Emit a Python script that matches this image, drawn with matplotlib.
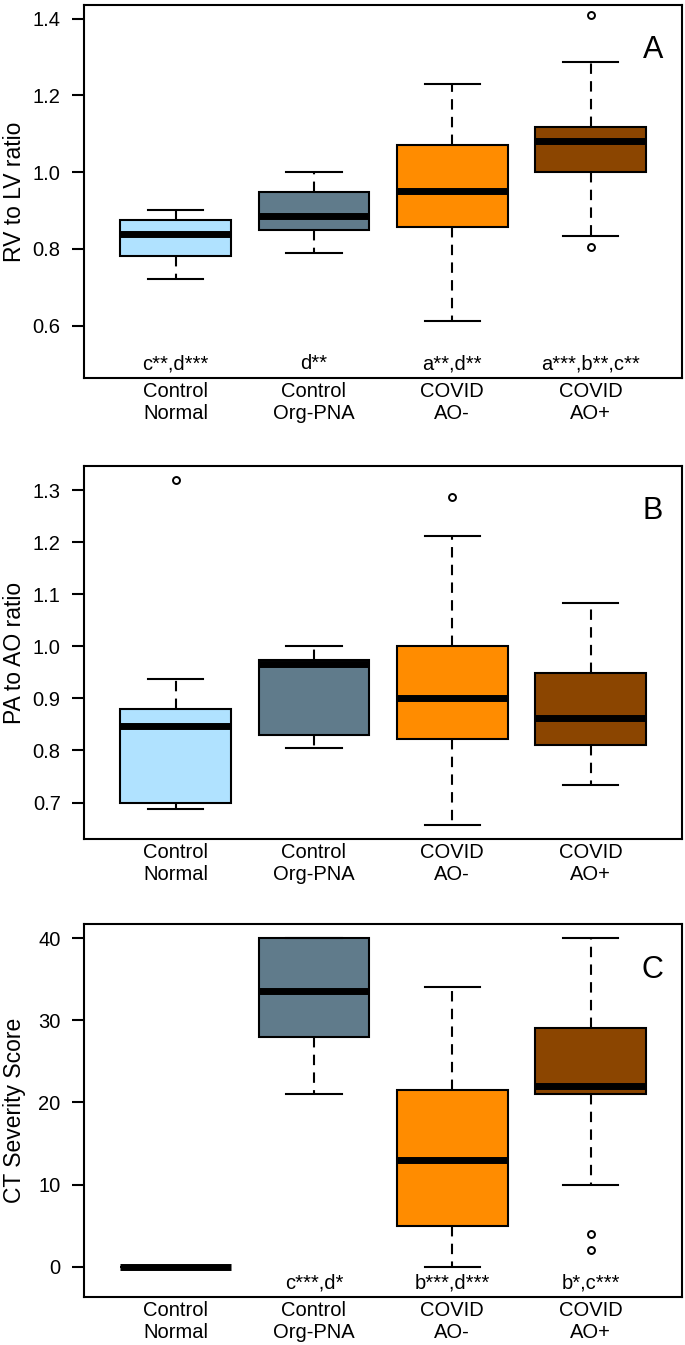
import matplotlib
matplotlib.use("Agg")
import matplotlib.pyplot as plt

plt.rcParams['font.family'] = ['Liberation Sans', 'DejaVu Sans']

# ==========================================
# DATA
# ==========================================
groups = ["Control\nNormal", "Control\nOrg-PNA", "COVID\nAO-", "COVID\nAO+"]
box_colors = ["#B0E2FF", "#607B8B", "#FF8C00", "#8B4500"]

# Panel A: RV to LV ratio (whisker low, Q1, median, Q3, whisker high)
rv_lo = [0.722, 0.790, 0.611, 0.834]
rv_q1 = [0.781, 0.848, 0.858, 1.001]
rv_med = [0.839, 0.885, 0.952, 1.080]
rv_q3 = [0.874, 0.948, 1.071, 1.117]
rv_hi = [0.901, 1.000, 1.229, 1.287]
rv_fliers = [[], [], [], [1.411, 0.805]]
rv_sig = ["c**,d***", "d**", "a**,d**", "a***,b**,c**"]

# Panel B: PA to AO ratio
pa_lo = [0.687, 0.805, 0.656, 0.733]
pa_q1 = [0.700, 0.829, 0.822, 0.811]
pa_med = [0.847, 0.966, 0.900, 0.862]
pa_q3 = [0.879, 0.973, 1.000, 0.949]
pa_hi = [0.938, 1.000, 1.212, 1.083]
pa_fliers = [[1.320], [], [1.286], []]

# Panel C: CT severity score
ct_lo = [0, 21, 0, 10]
ct_q1 = [0, 28, 5, 21]
ct_med = [0, 33.5, 13, 22]
ct_q3 = [0, 40, 21.5, 29]
ct_hi = [0, 40, 34, 40]
ct_fliers = [[], [], [], [4, 2]]
ct_sig = ["", "c***,d*", "b***,d***", "b*,c***"]


def make_stats(lo, q1, med, q3, hi, fliers):
    return [dict(whislo=a, q1=b, med=c, q3=d, whishi=e, fliers=f)
            for a, b, c, d, e, f in zip(lo, q1, med, q3, hi, fliers)]


fig = plt.figure(figsize=(6.85, 13.45), dpi=100)
ax_a = fig.add_axes([0.123, 0.7192, 0.8726, 0.2771])
ax_b = fig.add_axes([0.123, 0.3760, 0.8726, 0.2776])
ax_c = fig.add_axes([0.123, 0.0357, 0.8726, 0.2771])

panels = [
    (ax_a, make_stats(rv_lo, rv_q1, rv_med, rv_q3, rv_hi, rv_fliers),
     "RV to LV ratio", (0.5, 1.4), [0.6, 0.8, 1.0, 1.2, 1.4], "{:.1f}", "A", rv_sig, 0.5),
    (ax_b, make_stats(pa_lo, pa_q1, pa_med, pa_q3, pa_hi, pa_fliers),
     "PA to AO ratio", (0.656, 1.320), [0.7, 0.8, 0.9, 1.0, 1.1, 1.2, 1.3], "{:.1f}", "B", None, None),
    (ax_c, make_stats(ct_lo, ct_q1, ct_med, ct_q3, ct_hi, ct_fliers),
     "CT Severity Score", (-2, 40), [0, 10, 20, 30, 40], "{:.0f}", "C", ct_sig, -2),
]

for ax, stats, ylabel, (y0, y1), yticks, fmt, letter, sig, sig_y in panels:
    bp = ax.bxp(stats, positions=[1, 2, 3, 4], widths=0.8, capwidths=0.4,
                patch_artist=True, showfliers=True,
                boxprops=dict(edgecolor="black", linewidth=1.5),
                medianprops=dict(color="black", linewidth=5, solid_capstyle="butt"),
                whiskerprops=dict(color="black", linewidth=1.5, linestyle=(0, (5, 3.5))),
                capprops=dict(color="black", linewidth=1.5),
                flierprops=dict(marker="o", markerfacecolor="none", markeredgecolor="black",
                                markersize=5, markeredgewidth=1.4))
    for patch, col in zip(bp["boxes"], box_colors):
        patch.set_facecolor(col)

    pad = 0.04 * (y1 - y0)
    ax.set_ylim(y0 - pad, y1 + pad)
    ax.set_xlim(0.34, 4.66)
    ax.set_yticks(yticks)
    ax.set_yticklabels([fmt.format(t) for t in yticks])
    ax.set_xticks([1, 2, 3, 4])
    ax.set_xticklabels(groups, linespacing=1.2)
    ax.tick_params(axis="y", length=9, width=1.5, pad=8, labelsize=14.5)
    ax.tick_params(axis="x", length=0, pad=3, labelsize=14.5)
    for sp in ax.spines.values():
        sp.set_linewidth(1.5)
    ax.set_ylabel(ylabel, fontsize=16.5)
    ax.yaxis.set_label_coords(-0.097, 0.5)
    ax.text(0.951, 0.878, letter, transform=ax.transAxes, fontsize=22,
            ha="center", va="center")
    if sig is not None:
        for i, s in enumerate(sig):
            ax.text(i + 1, sig_y, s, ha="center", va="center", fontsize=14.5)

fig.savefig("out.png", dpi=100)
